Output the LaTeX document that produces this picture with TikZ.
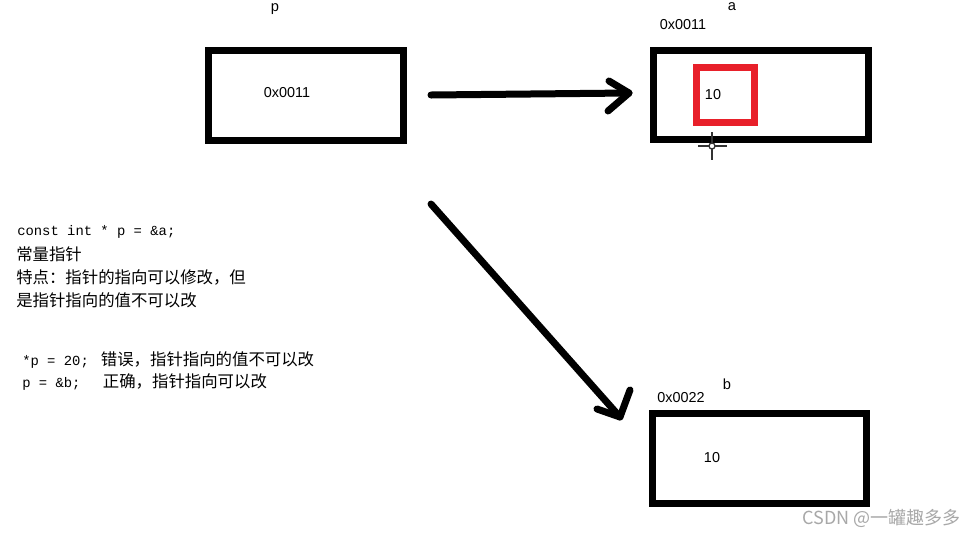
\documentclass[tikz,border=0pt]{standalone}
\usepackage{fontspec}
\setmainfont{Liberation Sans}
\setmonofont{Liberation Mono}
\newfontfamily\cjk{Noto Sans CJK SC}
\definecolor{redbox}{HTML}{E8202A}
\definecolor{wmgray}{HTML}{A8A8A8}
\begin{document}
\begin{tikzpicture}[x=0.75pt,y=-0.75pt,
  membox/.style={line width=5.25pt},
  redsq/.style={draw=redbox,line width=5.25pt},
  arrowline/.style={line width=5.25pt,line cap=round,line join=round},
  lbl/.style={inner sep=0pt,font=\fontsize{10.8pt}{12pt}\selectfont},
  codetxt/.style={inner sep=0pt,anchor=west,font=\fontsize{10.4pt}{12pt}\selectfont\ttfamily},
  cjktxt/.style={inner sep=0pt,anchor=west,font=\fontsize{12.3pt}{14pt}\selectfont\cjk},
  varname/.style={inner sep=0pt,font=\fontsize{11pt}{12pt}\selectfont\rmfamily}]
\useasboundingbox (0,0) rectangle (976,537);
\begin{scope}
\clip (0,0) rectangle (976,537);
\fill[white] (0,0) rectangle (976,537);
% memory boxes
\draw[membox] (208.5,50) rectangle (403.5,140.5);
\draw[membox] (653.5,50) rectangle (868.5,139.5);
\draw[membox] (652,413.5) rectangle (866.5,503.5);
\draw[redsq] (696.5,67.5) rectangle (754.5,122.5);
% labels
\node[lbl] (pval) at (287,93) {0x0011};
\node[lbl] (aaddr) at (683,25) {0x0011};
\node[lbl] (aval) at (713,95) {10};
\node[lbl] (baddr) at (681,398) {0x0022};
\node[lbl] (bval) at (712,458) {10};
\node[varname] (bname) at (727,384) {b};
\node[varname] (pname) at (275,9) {p};
\node[varname] (aname) at (732,7) {a};
% arrows
\coordinate (s1) at (431,95);
\coordinate (t1) at (629,93);
\coordinate (h1a) at (609,81);
\coordinate (h1b) at (608,111);
\draw[arrowline] (s1) -- (t1);
\draw[arrowline] (h1a) -- (t1) -- (h1b);
\coordinate (s2) at (431,204);
\coordinate (t2) at (620,417);
\coordinate (h2a) at (630,390);
\coordinate (h2b) at (597,409);
\draw[arrowline] (s2) -- (t2);
\draw[arrowline] (h2a) -- (t2) -- (h2b);
% cursor
\coordinate (cc) at (712,146);
\draw[line width=1.2pt,black!80] (712,132) -- (712,160) (698,146) -- (727,146);
\draw[line width=1pt,black!80,fill=white] (cc) circle (3);
% explanatory text
\node[codetxt] (l1) at (17,232) {const int * p = \&a;};
\node[cjktxt] (l2) at (16,254) {常量指针};
\node[cjktxt] (l3) at (16,277) {特点：指针的指向可以修改，但};
\node[cjktxt] (l4) at (16,300) {是指针指向的值不可以改};
\node[codetxt] (l5) at (22,360) {\makebox[59pt][l]{*p = 20;}{\cjk\fontsize{12.3pt}{14pt}\selectfont 错误，指针指向的值不可以改}};
\node[codetxt] (l6) at (22,382) {\makebox[60.5pt][l]{p = \&b;}{\cjk\fontsize{12.3pt}{14pt}\selectfont 正确，指针指向可以改}};
% watermark
\node[inner sep=0pt,anchor=east,text=wmgray,font=\fontsize{13.5pt}{15pt}\selectfont\cjk] (wm) at (961,518) {CSDN @一罐趣多多};
\end{scope}
\end{tikzpicture}
\end{document}
